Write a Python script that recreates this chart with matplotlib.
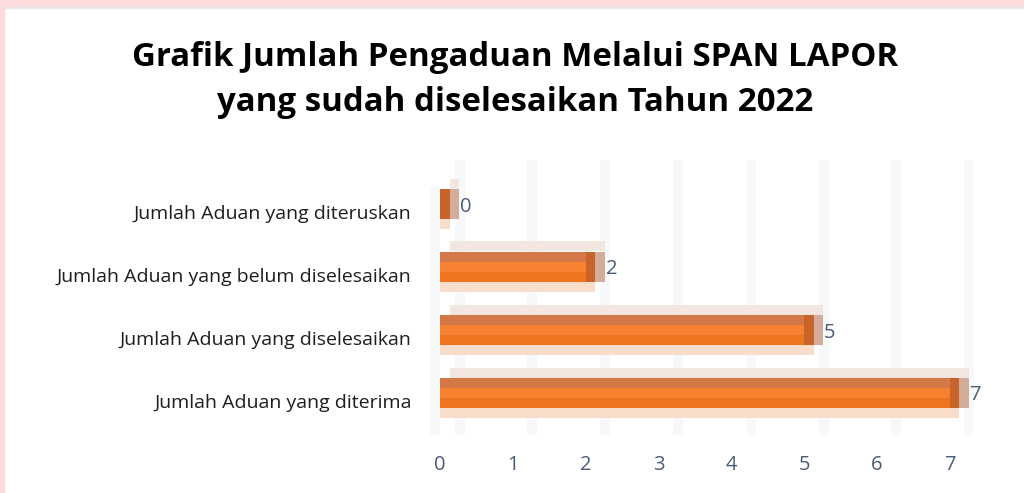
import matplotlib
matplotlib.use("Agg")
import matplotlib.pyplot as plt
import matplotlib.transforms as mtransforms
from matplotlib.patches import Rectangle

# Data
categories = [
    "Jumlah Aduan yang diterima",
    "Jumlah Aduan yang diselesaikan",
    "Jumlah Aduan yang belum diselesaikan",
    "Jumlah Aduan yang diteruskan",
]
values = [7, 5, 2, 0]
x_ticks = [0, 1, 2, 3, 4, 5, 6, 7]
title = "Grafik Jumlah Pengaduan Melalui SPAN LAPOR\nyang sudah diselesaikan Tahun 2022"

# Colours for the pseudo-3D bar faces
TOP_FACE = "#F3E6DE"
DARK_ROW = "#D57848"
ORANGE_1 = "#F58131"
ORANGE_2 = "#EF7420"
BOTTOM_FACE = "#F8DDCA"
CAP = "#C8642A"
BACK_CAP = "#D3AD99"
GRID = "#F7F8FA"
TEXT_BLUE = "#4B5B78"

fig = plt.figure(figsize=(10.24, 4.93), dpi=100)
W, H = 1024, 493

# pink page border (top and left)
fig.patches.append(Rectangle((0, 1 - 7 / H), 1, 7 / H, transform=fig.transFigure,
                             color="#FDDADB", zorder=0))
fig.patches.append(Rectangle((0, 1 - 8 / H), 1, 1 / H, transform=fig.transFigure,
                             color="#E6E6EC", zorder=0))
fig.patches.append(Rectangle((0, 0), 4 / W, 1, transform=fig.transFigure,
                             color="#FDDADB", zorder=0))

ax = fig.add_axes([420 / W, 1 - 445 / H, 580 / W, 295 / H])

px_x = 72.8  # pixels per value unit
px_y = 63.0  # pixels per category
ax.set_xlim(-20 / px_x, 580 / px_x - 20 / px_x)
ax.set_ylim(-(445 - 401) / px_y, 3 + (212 - 150) / px_y)

# faint offset gridlines (3D look)
ax.vlines([t + 0.27 for t in x_ticks], -0.54, 3.83, color=GRID, lw=7.2, zorder=0)
ax.vlines([-0.07], -0.54, 3.4, color=GRID, lw=7.2, zorder=0)

band = 10 / px_y
cap_w = 9.5 / px_x
shift = 8.5 / px_y
for i, v in enumerate(values):
    yc = i + shift
    # back top face
    ax.barh(yc + 2 * band, v + cap_w, left=cap_w, height=band,
            color=TOP_FACE, zorder=2, lw=0)
    # back end cap
    ax.barh(yc, cap_w, left=v + cap_w, height=3 * band,
            color=BACK_CAP, zorder=2, lw=0)
    # front rows
    ax.barh(yc + band, v, height=band, color=DARK_ROW, zorder=3, lw=0)
    ax.barh(yc, v, height=band, color=ORANGE_1, zorder=3, lw=0)
    ax.barh(yc - band, v, height=band, color=ORANGE_2, zorder=3, lw=0)
    ax.barh(yc - 2 * band, v + cap_w, height=band, color=BOTTOM_FACE, zorder=2, lw=0)
    # front end cap
    ax.barh(yc, cap_w, left=v, height=3 * band, color=CAP, zorder=3, lw=0)
    ax.text(v + 2 * cap_w + 1 / px_x, yc - 3 / px_y, str(v), color=TEXT_BLUE,
            fontsize=14.5, family="Open Sans", va="center", ha="left", zorder=4)

ax.set_yticks(range(len(categories)))
ax.set_yticklabels(categories, family="Open Sans", fontsize=14, color="#1E1E1E")
ax.set_xticks(x_ticks)
ax.set_xticklabels([str(t) for t in x_ticks], family="Open Sans",
                   fontsize=14.5, color=TEXT_BLUE)
offset = mtransforms.ScaledTranslation(-4 / 100, 0, fig.dpi_scale_trans)
for lbl in ax.get_xticklabels():
    lbl.set_transform(lbl.get_transform() + offset)
ax.tick_params(axis="both", length=0)
ax.tick_params(axis="y", pad=6)
ax.tick_params(axis="x", pad=7)
for s in ax.spines.values():
    s.set_visible(False)
ax.set_facecolor("none")

fig.text(515 / W, 1 - 80 / H, title, ha="center", va="center",
         fontsize=23.8, fontweight="bold", family="Open Sans",
         color="#000000", linespacing=1.45)

fig.savefig("out.png", dpi=100, facecolor="white")
